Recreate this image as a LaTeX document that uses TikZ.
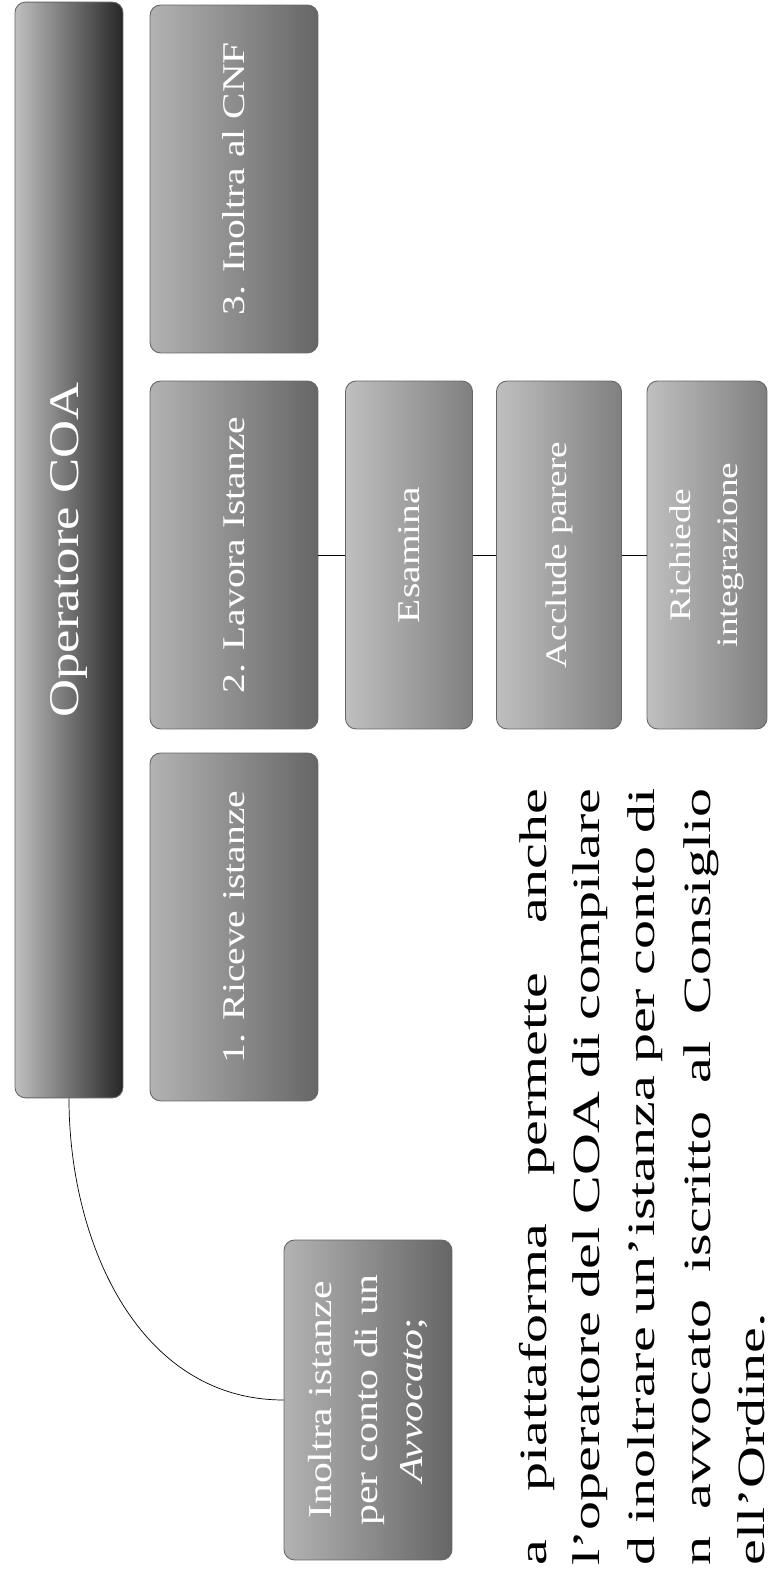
\documentclass[tikz,border=0pt]{standalone}
\usepackage{fontspec}
\setmainfont{Liberation Serif}[FakeStretch=1.25]
\newfontfamily\parafont{Liberation Serif}[FakeStretch=1.5]
\tikzset{
  stepbox/.style={rounded corners=6pt, draw=black!60, line width=0.5pt,
    text=white, align=center, inner sep=2pt},
  topbox/.style={stepbox, left color=black!25, right color=black!85,
    minimum width=21.92cm, minimum height=2.16cm, font=\fontsize{24}{28}\selectfont},
  mainbox/.style={stepbox, left color=black!30, right color=black!60,
    minimum width=6.96cm, minimum height=3.36cm, font=\fontsize{18}{22}\selectfont},
  subbox/.style={stepbox, left color=black!25, right color=black!50,
    minimum width=6.96cm, font=\fontsize{17}{27}\selectfont},
  parline/.style={anchor=base west, inner sep=0pt, font=\parafont\fontsize{22}{26}\selectfont}
}
\begin{document}
\begin{tikzpicture}[x=0.02cm, y=0.02cm, rotate=90, transform shape]
  \useasboundingbox (0,0) rectangle (1569,769);
  % top bar and first level
  \node[topbox] (coa) at (1019,700) {Operatore COA};
  \node[mainbox] (cnf) at (1390,535) {3. Inoltra al CNF};
  \node[mainbox] (lavora) at (1014,535) {2. Lavora Istanze};
  \node[mainbox] (riceve) at (642,535) {1. Riceve istanze};
  % steps under Lavora Istanze
  \node[subbox, minimum height=2.54cm, font=\fontsize{18}{22}\selectfont] (esamina) at (1014,360) {Esamina};
  \node[subbox, minimum height=2.5cm] (acclude) at (1014,210) {Acclude parere};
  \node[subbox, minimum height=2.4cm] (richiede) at (1014,62) {Richiede\\integrazione};
  \node[mainbox, minimum width=6.4cm, font=\fontsize{19}{26}\selectfont] (avv) at (169,401)
    {Inoltra istanze\\per conto di un\\\textit{Avvocato};};
  \draw (lavora.south) -- (esamina.north);
  \draw (esamina.south) -- (acclude.north);
  \draw (acclude.south) -- (richiede.north);
  \draw (coa.west) to[out=180, in=90] (avv.north);
  % text below the chart
  \node[parline] (riga1) at (3,222) {\makebox[15.54cm][s]{a piattaforma permette anche}};
  \node[parline] (riga2) at (3,169) {\makebox[15.54cm][s]{l’operatore del COA di compilare}};
  \node[parline] (riga3) at (3,114) {\makebox[15.54cm][s]{d inoltrare un’istanza per conto di}};
  \node[parline] (riga4) at (3,58) {\makebox[15.54cm][s]{n avvocato iscritto al Consiglio}};
  \node[parline] (riga5) at (3,4) {ell’Ordine.};
\end{tikzpicture}
\end{document}
